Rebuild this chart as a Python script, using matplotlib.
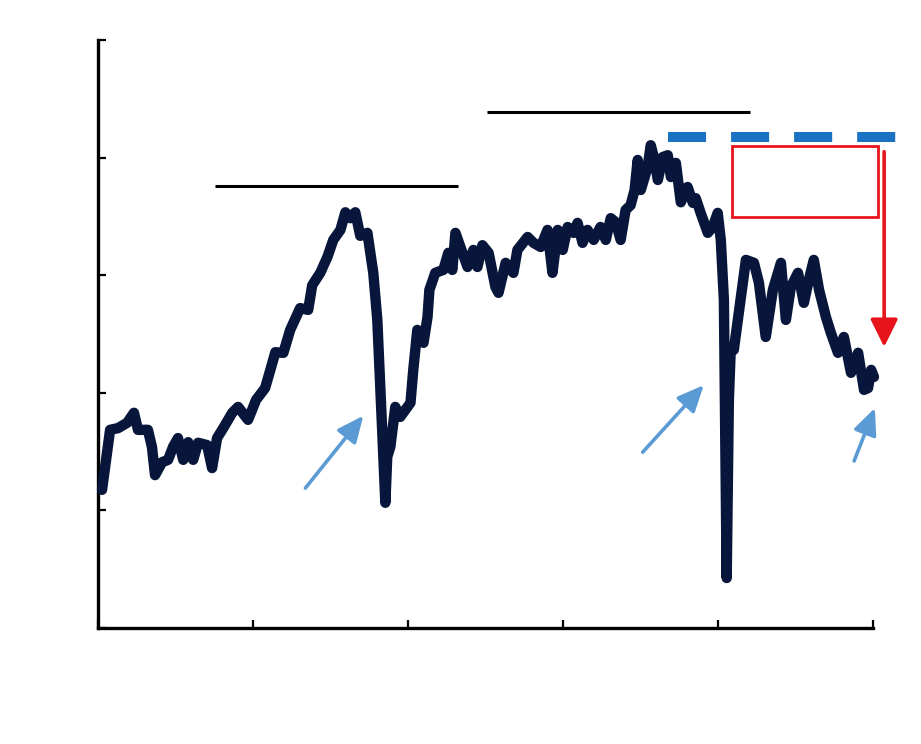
import matplotlib
matplotlib.use("Agg")
import matplotlib.pyplot as plt

# series: time (years) and index level
years = [
    2000.13, 2000.23, 2000.39, 2000.65, 2000.94, 2001.16, 2001.29, 2001.61, 2001.74, 2001.84,
    2002.07, 2002.26, 2002.42, 2002.58, 2002.75, 2002.91, 2003.07, 2003.23, 2003.52, 2003.68,
    2003.84, 2004.04, 2004.33, 2004.52, 2004.84, 2005.10, 2005.39, 2005.56, 2005.72, 2005.98,
    2006.20, 2006.52, 2006.78, 2006.91, 2007.17, 2007.40, 2007.59, 2007.82, 2007.98, 2008.14,
    2008.30, 2008.46, 2008.69, 2008.88, 2009.01, 2009.11, 2009.21, 2009.27, 2009.33, 2009.43,
    2009.59, 2009.75, 2010.08, 2010.17, 2010.30, 2010.50, 2010.63, 2010.69, 2010.88, 2011.14,
    2011.30, 2011.43, 2011.53, 2011.69, 2011.92, 2012.11, 2012.24, 2012.40, 2012.60, 2012.82,
    2012.92, 2013.15, 2013.40, 2013.53, 2013.86, 2014.05, 2014.28, 2014.50, 2014.66, 2014.83,
    2014.99, 2015.15, 2015.34, 2015.47, 2015.63, 2015.79, 2015.99, 2016.21, 2016.38, 2016.54,
    2016.70, 2016.86, 2017.02, 2017.18, 2017.31, 2017.41, 2017.51, 2017.73, 2017.83, 2017.93,
    2018.06, 2018.22, 2018.38, 2018.48, 2018.64, 2018.80, 2019.02, 2019.19, 2019.28, 2019.44,
    2019.67, 2019.83, 2019.99, 2020.09, 2020.19, 2020.28, 2020.35, 2020.41, 2020.51, 2020.74,
    2020.90, 2021.16, 2021.32, 2021.54, 2021.77, 2022.03, 2022.19, 2022.35, 2022.58, 2022.77,
    2022.93, 2023.09, 2023.26, 2023.48, 2023.64, 2023.87, 2024.06, 2024.29, 2024.52, 2024.71,
    2024.84, 2024.94, 2025.03,
]
values = [
    23.5, 27.4, 33.7, 34.0, 34.9, 36.6, 33.7, 33.7, 30.8, 26.0,
    28.2, 28.6, 30.8, 32.3, 28.6, 31.6, 28.6, 31.5, 31.1, 27.2,
    32.3, 34.0, 36.6, 37.6, 35.4, 38.8, 40.8, 43.9, 46.9, 46.8,
    50.7, 54.4, 54.1, 58.3, 60.4, 63.1, 66.0, 67.7, 70.7, 69.7,
    70.7, 66.7, 67.2, 60.4, 52.4, 40.5, 28.6, 21.3, 29.1, 30.8,
    37.6, 35.9, 38.3, 43.9, 50.7, 48.5, 52.9, 57.5, 60.4, 60.9,
    63.8, 60.9, 67.2, 64.8, 61.4, 64.3, 61.4, 65.1, 63.8, 58.0,
    57.0, 62.1, 60.4, 64.3, 66.5, 65.5, 64.8, 67.7, 60.4, 67.7,
    64.3, 68.2, 67.2, 68.9, 65.5, 67.7, 66.0, 68.2, 66.0, 69.7,
    69.0, 66.0, 71.1, 71.9, 74.5, 79.6, 74.5, 78.4, 82.1, 80.1,
    76.2, 80.1, 80.4, 76.7, 79.1, 72.4, 75.0, 72.3, 73.1, 70.6,
    67.2, 68.2, 70.6, 66.0, 55.8, 8.5, 38.8, 47.3, 47.3, 56.3,
    62.6, 62.1, 58.7, 49.5, 57.5, 62.1, 52.4, 58.0, 60.4, 55.3,
    59.2, 62.6, 57.5, 52.9, 50.2, 46.8, 49.5, 43.4, 46.8, 40.5,
    40.8, 43.9, 42.7,
]

x_ticks = [2000, 2005, 2010, 2015, 2020, 2025]
y_ticks = [0, 20, 40, 60, 80, 100]

# annotation elements
level_lines = [(2003.78, 2011.60, 75.2), (2012.56, 2021.03, 87.8)]
dashed_level = (2018.38, 2025.78, 83.5)
red_box = (2020.45, 69.9, 4.71, 12.1)  # x, y, width, height
red_arrow = ((2025.36, 81.0), (2025.36, 47.8))
blue_arrows = [
    ((2006.69, 23.8), (2008.56, 36.1)),
    ((2017.57, 29.9), (2019.54, 41.3)),
    ((2024.39, 28.4), (2025.06, 37.4)),
]

navy = "#07163a"
light_blue = "#5b9bd5"
dash_blue = "#1a73c2"
red = "#e8141c"

fig = plt.figure(figsize=(9.21, 7.44), dpi=100)
ax = fig.add_axes([98 / 921, 116 / 744, 775 / 921, 588 / 744])

ax.plot(years, values, color=navy, lw=7.5, solid_joinstyle="round",
        solid_capstyle="round", clip_on=False, zorder=3)

for x0, x1, y in level_lines:
    ax.plot([x0, x1], [y, y], color="black", lw=2.2, solid_capstyle="butt", zorder=2)

lw_dash = 7.2
ax.plot([dashed_level[0], dashed_level[1]], [dashed_level[2]] * 2, color=dash_blue,
        lw=lw_dash, dashes=(27.4 / lw_dash, 18.0 / lw_dash), dash_capstyle="butt",
        clip_on=False, zorder=2)

ax.add_patch(plt.Rectangle((red_box[0], red_box[1]), red_box[2], red_box[3],
                           fill=False, edgecolor=red, lw=2.0, clip_on=False, zorder=4))

ax.annotate("", xy=red_arrow[1], xytext=red_arrow[0], annotation_clip=False,
            arrowprops=dict(arrowstyle="-|>,head_length=0.85,head_width=0.42",
                            mutation_scale=20, color=red, lw=2.6,
                            shrinkA=0, shrinkB=0), zorder=4)

for tail, tip in blue_arrows:
    ax.annotate("", xy=tip, xytext=tail, annotation_clip=False,
                arrowprops=dict(arrowstyle="-|>,head_length=0.8,head_width=0.36",
                                mutation_scale=20, color=light_blue, lw=2.6,
                                shrinkA=0, shrinkB=0), zorder=4)

ax.set_xlim(2000, 2025)
ax.set_ylim(0, 100)
ax.set_xticks(x_ticks)
ax.set_yticks(y_ticks)
ax.tick_params(direction="in", length=6, width=1.6, color="black",
               labelbottom=False, labelleft=False)
for side in ["top", "right"]:
    ax.spines[side].set_visible(False)
for side in ["left", "bottom"]:
    ax.spines[side].set_linewidth(2.4)
    ax.spines[side].set_color("black")

plt.savefig("out.png", dpi=100)
plt.close()
